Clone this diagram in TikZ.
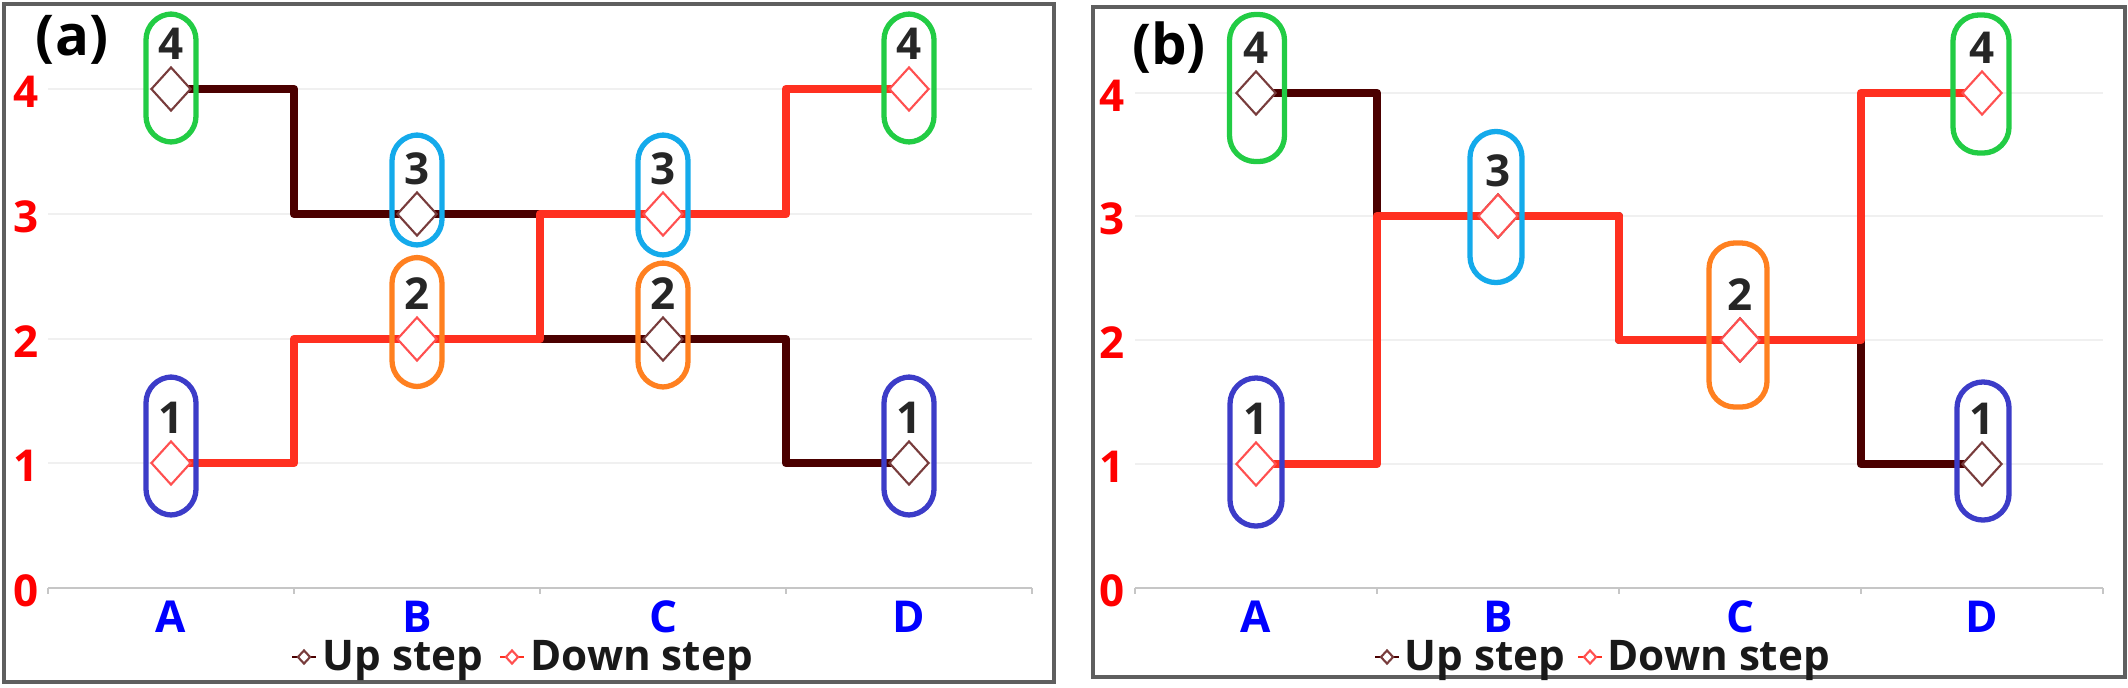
\documentclass[tikz,border=0pt]{standalone}
\usepackage{fontspec}
\setmainfont{Open Sans}
\usetikzlibrary{shapes.geometric,calc}

% Farben
\definecolor{upcol}{RGB}{75,0,0}
\definecolor{downcol}{RGB}{255,48,32}
\definecolor{upmkcol}{RGB}{120,60,60}
\definecolor{downmkcol}{RGB}{255,80,80}
\definecolor{ringgreen}{RGB}{34,204,68}
\definecolor{ringcyan}{RGB}{20,170,235}
\definecolor{ringorange}{RGB}{255,128,32}
\definecolor{ringblue}{RGB}{60,60,200}
\definecolor{framecol}{RGB}{95,95,95}

\tikzset{
	frame/.style={draw=framecol, line width=1pt},
	gridline/.style={draw=gray!12, line width=0.6pt},
	axisline/.style={draw=gray!45, line width=0.8pt},
	upline/.style={draw=upcol, line width=2.4pt, line join=round},
	downline/.style={draw=downcol, line width=2.4pt, line join=round},
	upmk/.style={diamond, draw=upmkcol, fill=white, line width=0.6pt, minimum width=0.4cm, minimum height=0.44cm, inner sep=0pt},
	downmk/.style={diamond, draw=downmkcol, fill=white, line width=0.6pt, minimum width=0.4cm, minimum height=0.44cm, inner sep=0pt},
	ring/.style={draw=#1, line width=1.5pt, rounded corners=0.26cm, minimum width=0.5cm, inner sep=0pt},
	numlab/.style={anchor=base, text=black!85, font=\bfseries\fontsize{12.5}{12.5}\selectfont},
	ylab/.style={anchor=base, text=red, font=\bfseries\fontsize{12.5}{12.5}\selectfont},
	xlab/.style={anchor=base, text=blue, font=\bfseries\fontsize{12.5}{12.5}\selectfont},
	legtext/.style={anchor=base west, inner sep=0pt, text=black!90, font=\bfseries\fontsize{12}{12}\selectfont},
	panellab/.style={text=black, font=\bfseries\fontsize{16}{16}\selectfont},
}

\begin{document}
\begin{tikzpicture}[x=0.01cm, y=-0.01cm]
	\useasboundingbox (0,0) rectangle (2128,687);

	% zeichne Rahmen
	\draw[frame] (4,4) rectangle (1054,682);
	\draw[frame] (1093,7) rectangle (2125,677);
	\node[panellab] (pa) at (72,40) {(a)};
	\node[panellab] (pb) at (1169,48) {(b)};

	% zeichne Gitter und Achsen (a)
	\foreach \y/\v in {89/4,214/3,339/2,463/1} {
		\draw[gridline] (48,\y) -- (1032,\y);
	}
	\foreach \y/\v in {89/4,214/3,339/2,463/1,588/0} {
		\node[ylab] (ay\v) at (26,{\y+18}) {\v};
	}
	\draw[axisline] (48,588) -- (1032,588);
	\foreach \x in {48,294,540,786,1032} {
		\draw[axisline] (\x,588) -- (\x,594);
	}
	\node[xlab] (axA) at (171,632) {A};
	\node[xlab] (axB) at (417,632) {B};
	\node[xlab] (axC) at (663,632) {C};
	\node[xlab] (axD) at (909,632) {D};

	% zeichne Gitter und Achsen (b)
	\foreach \y/\v in {93/4,216/3,340/2,464/1} {
		\draw[gridline] (1135,\y) -- (2103,\y);
	}
	\foreach \y/\v in {93/4,216/3,340/2,464/1,588/0} {
		\node[ylab] (by\v) at (1112,{\y+18}) {\v};
	}
	\draw[axisline] (1135,588) -- (2103,588);
	\foreach \x in {1135,1377,1619,1861,2103} {
		\draw[axisline] (\x,588) -- (\x,594);
	}
	\node[xlab] (bxA) at (1256,632) {A};
	\node[xlab] (bxB) at (1498,632) {B};
	\node[xlab] (bxC) at (1740,632) {C};
	\node[xlab] (bxD) at (1982,632) {D};

	% Datenpunkte
	\coordinate (aU1) at (171,89);
	\coordinate (aU2) at (417,214);
	\coordinate (aU3) at (663,339);
	\coordinate (aU4) at (909,463);
	\coordinate (aD1) at (171,463);
	\coordinate (aD2) at (417,339);
	\coordinate (aD3) at (663,214);
	\coordinate (aD4) at (909,89);
	\coordinate (bU1) at (1256,93);
	\coordinate (bU2) at (1498,216);
	\coordinate (bU3) at (1740,340);
	\coordinate (bU4) at (1982,464);
	\coordinate (bD1) at (1256,464);
	\coordinate (bD2) at (1498,216);
	\coordinate (bD3) at (1740,340);
	\coordinate (bD4) at (1982,93);

	% zeichne Stufenverlauf
	\draw[upline] (aU1) -| ($(aU1)!.5!(aU2)$) |- (aU2) -| ($(aU2)!.5!(aU3)$) |- (aU3) -| ($(aU3)!.5!(aU4)$) |- (aU4);
	\draw[downline] (aD1) -| ($(aD1)!.5!(aD2)$) |- (aD2) -| ($(aD2)!.5!(aD3)$) |- (aD3) -| ($(aD3)!.5!(aD4)$) |- (aD4);
	\draw[upline] (bU1) -| ($(bU1)!.5!(bU2)$) |- (bU2) -| ($(bU2)!.5!(bU3)$) |- (bU3) -| ($(bU3)!.5!(bU4)$) |- (bU4);
	\draw[downline] (bD1) -| ($(bD1)!.5!(bD2)$) |- (bD2) -| ($(bD2)!.5!(bD3)$) |- (bD3) -| ($(bD3)!.5!(bD4)$) |- (bD4);

	% zeichne Marker
	\node[upmk] (aUm1) at (aU1) {};
	\node[upmk] (aUm2) at (aU2) {};
	\node[upmk] (aUm3) at (aU3) {};
	\node[upmk] (aUm4) at (aU4) {};
	\node[downmk] (aDm1) at (aD1) {};
	\node[downmk] (aDm2) at (aD2) {};
	\node[downmk] (aDm3) at (aD3) {};
	\node[downmk] (aDm4) at (aD4) {};
	\node[upmk] (bUm1) at (bU1) {};
	\node[upmk] (bUm2) at (bU2) {};
	\node[upmk] (bUm3) at (bU3) {};
	\node[upmk] (bUm4) at (bU4) {};
	\node[downmk] (bDm1) at (bD1) {};
	\node[downmk] (bDm2) at (bD2) {};
	\node[downmk] (bDm3) at (bD3) {};
	\node[downmk] (bDm4) at (bD4) {};

	% zeichne Ringe und Nummern (a)
	\node[ring=ringgreen, minimum height=1.28cm] (aRA4) at (171,78) {};
	\node[ring=ringblue, minimum height=1.38cm] (aRA1) at (171,446) {};
	\node[ring=ringcyan, minimum height=1.10cm] (aRB3) at (417,190) {};
	\node[ring=ringorange, minimum height=1.29cm] (aRB2) at (417,322) {};
	\node[ring=ringcyan, minimum height=1.20cm] (aRC3) at (663,195) {};
	\node[ring=ringorange, minimum height=1.24cm] (aRC2) at (663,325) {};
	\node[ring=ringgreen, minimum height=1.28cm] (aRD4) at (909,78) {};
	\node[ring=ringblue, minimum height=1.38cm] (aRD1) at (909,446) {};
	\node[numlab] (aNA4) at (171,59) {4};
	\node[numlab] (aNA1) at (171,433) {1};
	\node[numlab] (aNB3) at (417,184) {3};
	\node[numlab] (aNB2) at (417,309) {2};
	\node[numlab] (aNC3) at (663,184) {3};
	\node[numlab] (aNC2) at (663,309) {2};
	\node[numlab] (aND4) at (909,59) {4};
	\node[numlab] (aND1) at (909,433) {1};

	% zeichne Ringe und Nummern (b)
	\node[ring=ringgreen, minimum width=0.55cm, minimum height=1.47cm] (bRA4) at (1257,88) {};
	\node[ring=ringblue, minimum width=0.52cm, minimum height=1.48cm] (bRA1) at (1256,452) {};
	\node[ring=ringcyan, minimum width=0.52cm, minimum height=1.51cm] (bRB3) at (1496,207) {};
	\node[ring=ringorange, minimum width=0.58cm, minimum height=1.64cm] (bRC2) at (1738,325) {};
	\node[ring=ringgreen, minimum width=0.56cm, minimum height=1.38cm] (bRD4) at (1981,84) {};
	\node[ring=ringblue, minimum width=0.52cm, minimum height=1.38cm] (bRD1) at (1983,451) {};
	\node[numlab] (bNA4) at (1256,63) {4};
	\node[numlab] (bNA1) at (1256,434) {1};
	\node[numlab] (bNB3) at (1498,186) {3};
	\node[numlab] (bNC2) at (1740,310) {2};
	\node[numlab] (bND4) at (1982,63) {4};
	\node[numlab] (bND1) at (1982,434) {1};

	% zeichne Legende (a)
	\draw[draw=upcol, line width=0.8pt] (292,657) -- (316,657);
	\node[upmk, minimum width=0.13cm, minimum height=0.14cm] (alU) at (304,657) {};
	\node[legtext] (altU) at (322,670) {Up step};
	\draw[draw=downcol, line width=0.8pt] (500,657) -- (524,657);
	\node[downmk, minimum width=0.13cm, minimum height=0.14cm] (alD) at (512,657) {};
	\node[legtext] (altD) at (530,670) {Down step};

	% zeichne Legende (b)
	\draw[draw=upcol, line width=0.8pt] (1375,657) -- (1399,657);
	\node[upmk, minimum width=0.13cm, minimum height=0.14cm] (blU) at (1387,657) {};
	\node[legtext] (bltU) at (1404,670) {Up step};
	\draw[draw=downcol, line width=0.8pt] (1578,657) -- (1602,657);
	\node[downmk, minimum width=0.13cm, minimum height=0.14cm] (blD) at (1590,657) {};
	\node[legtext] (bltD) at (1607,670) {Down step};
\end{tikzpicture}
\end{document}
